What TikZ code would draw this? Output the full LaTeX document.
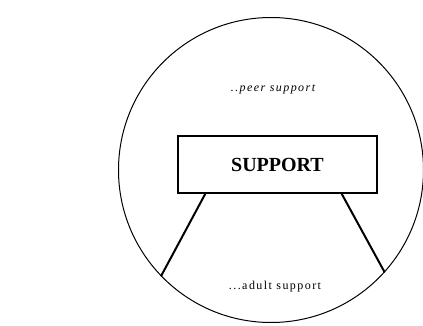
\documentclass[tikz,border=0pt]{standalone}
\usepackage{fontspec}
\setmainfont{Liberation Serif}
\usetikzlibrary{positioning, calc}

\begin{document}
\begin{tikzpicture}[
  x=1pt, y=-1pt,
  ring/.style={circle, draw, line width=1pt, minimum size=305pt, inner sep=0pt},
  sign/.style={rectangle, draw, line width=1.5pt, fill=white, minimum width=199pt, minimum height=57pt, font=\fontsize{20}{22}\selectfont\bfseries},
  leg/.style={line width=2pt},
  note/.style={font=\fontsize{12}{14}\selectfont\addfontfeature{LetterSpace=12}},
]
  \useasboundingbox (0,0) rectangle (423,326);

  \node[ring] (world) at (271,170) {};
  \node[sign] (sign) at (277.5,164.5) {SUPPORT};
  \node[note] (peer) at (273,89) {\itshape ..peer support};
  \node[note] (adult) at (275,287) {...adult support};

  \coordinate (lefttop) at ($(sign.south west)!0.14!(sign.south east)$);
  \coordinate (righttop) at ($(sign.south west)!0.82!(sign.south east)$);

  \draw[leg] (lefttop) -- (world.224);
  \draw[leg] (righttop) -- (world.318);
\end{tikzpicture}
\end{document}
